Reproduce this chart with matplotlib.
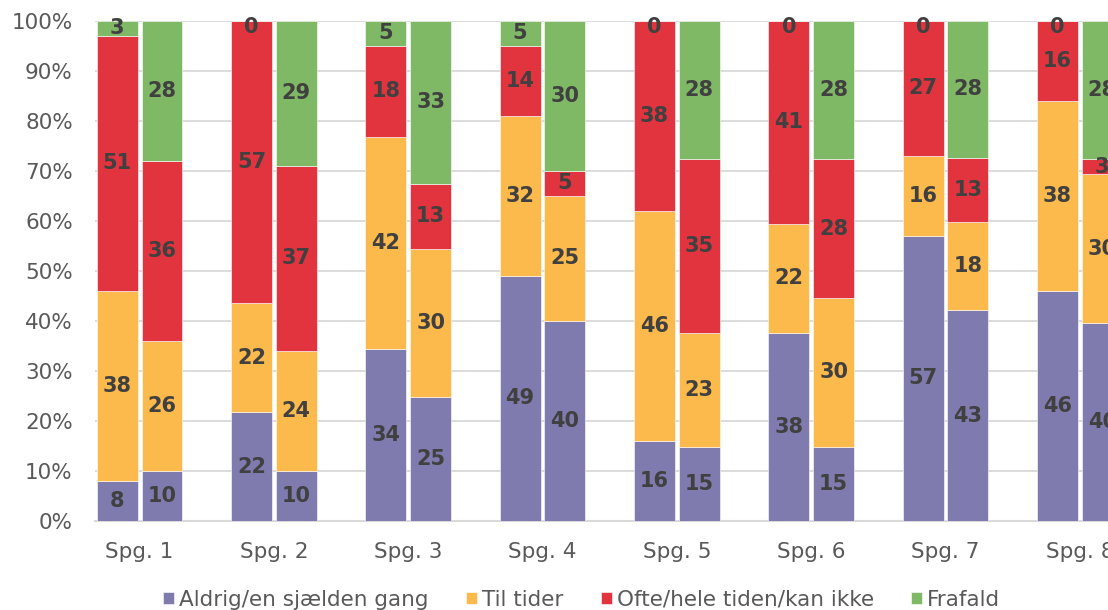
import matplotlib
matplotlib.use("Agg")
import matplotlib.pyplot as plt
import numpy as np

plt.rcParams["font.family"] = ["DejaVu Sans"]

categories = ["Spg. 1", "Spg. 2", "Spg. 3", "Spg. 4", "Spg. 5", "Spg. 6", "Spg. 7", "Spg. 8"]
series = ["Aldrig/en sjælden gang", "Til tider", "Ofte/hele tiden/kan ikke", "Frafald"]
colors = ["#807BAE", "#FBBA4B", "#E1343E", "#80B965"]

# first bar of each pair
bar_a = {
    "Aldrig/en sjælden gang": [8, 22, 34, 49, 16, 38, 57, 46],
    "Til tider": [38, 22, 42, 32, 46, 22, 16, 38],
    "Ofte/hele tiden/kan ikke": [51, 57, 18, 14, 38, 41, 27, 16],
    "Frafald": [3, 0, 5, 5, 0, 0, 0, 0],
}
# second bar of each pair
bar_b = {
    "Aldrig/en sjælden gang": [10, 10, 25, 40, 15, 15, 43, 40],
    "Til tider": [26, 24, 30, 25, 23, 30, 18, 30],
    "Ofte/hele tiden/kan ikke": [36, 37, 13, 5, 35, 28, 13, 3],
    "Frafald": [28, 29, 33, 30, 28, 28, 28, 28],
}
yticks = [0, 10, 20, 30, 40, 50, 60, 70, 80, 90, 100]

fig = plt.figure(figsize=(11.08, 6.10), dpi=100)
ax = fig.add_axes([95 / 1108, 1 - 521 / 610, (1147 - 95) / 1108, (521 - 20.7) / 610])

x = np.arange(len(categories))
width = 0.305
offset = 0.1668
label_color = "#404040"

handles = []
for data, off in ((bar_a, -offset), (bar_b, offset)):
    vals = np.array([data[s] for s in series], dtype=float)
    totals = vals.sum(axis=0)
    pct = vals / totals * 100
    bottom = np.zeros(len(categories))
    for i, s in enumerate(series):
        bars = ax.bar(x + off, pct[i], width, bottom=bottom, color=colors[i],
                      edgecolor="#ffffff", linewidth=0.4, zorder=2, label=s)
        if off < 0:
            handles.append(bars)
        for j in range(len(categories)):
            yc = bottom[j] + pct[i][j] / 2
            yc = min(yc, 98.8)
            ax.text(x[j] + off, yc, f"{int(vals[i][j])}", ha="center", va="center",
                    fontsize=15, fontweight="bold", color=label_color, zorder=3)
        bottom = bottom + pct[i]

ax.set_xlim(-0.332, 7.5)
ax.set_ylim(0, 100)
ax.set_yticks(yticks)
ax.set_yticklabels([f"{t}%" for t in yticks])
ax.set_xticks(x)
ax.set_xticklabels(categories)
ax.tick_params(axis="both", length=0, labelsize=15.5, labelcolor="#595959")
ax.tick_params(axis="y", pad=16)
ax.tick_params(axis="x", pad=15)
ax.grid(axis="y", color="#D9D9D9", linewidth=1.3, zorder=0)
ax.set_axisbelow(True)
for sp in ["left", "right", "top"]:
    ax.spines[sp].set_visible(False)
ax.spines["bottom"].set_color("#D9D9D9")
ax.spines["bottom"].set_linewidth(1.5)
ax.spines["bottom"].set_zorder(1)

leg = fig.legend(handles=handles, labels=series, loc="center", bbox_to_anchor=(0.525, 0.017),
                 ncol=4, frameon=False, fontsize=15.5, handlelength=0.52, handleheight=0.52,
                 handletextpad=0.23, columnspacing=1.72, borderpad=0, labelcolor="#595959")

fig.savefig("out.png", dpi=100)
